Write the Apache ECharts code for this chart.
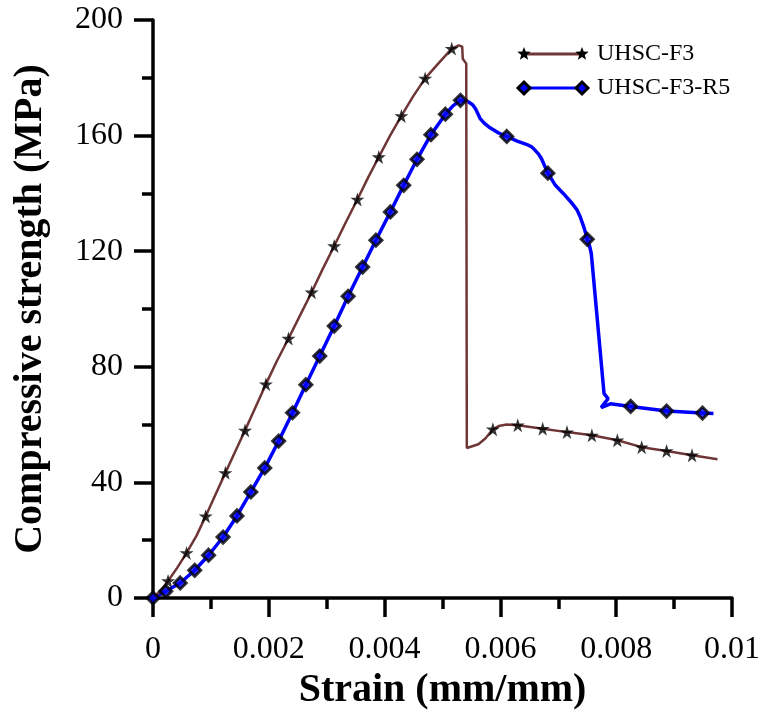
<!DOCTYPE html>
<html><head><meta charset="utf-8">
<script src="https://cdn.jsdelivr.net/npm/echarts@6/dist/echarts.min.js"></script>
<style>html,body{margin:0;padding:0;background:#fff}#c{width:761px;height:710px}</style>
</head><body><div id="c"></div>
<script>
// Series names
const seriesNames = ['UHSC-F3', 'UHSC-F3-R5'];
// Tick labels
const xTickLabels = ['0', '0.002', '0.004', '0.006', '0.008', '0.01'];
const yTickLabels = ['0', '40', '80', '120', '160', '200'];
// UHSC-F3 curve [strain, stress]
const f3Curve = [[0,0],[0.00013,2.5],[0.00026,5.9],[0.00042,10.5],[0.00058,15.6],[0.00075,21.5],[0.00091,28.3],[0.00108,35.8],[0.00125,43.3],[0.00142,50.7],[0.00159,58.0],[0.00177,66],[0.00195,74.0],[0.00214,82],[0.00234,89.8],[0.00254,97.8],[0.00274,105.8],[0.00293,113.8],[0.00313,121.8],[0.00333,130],[0.00353,137.9],[0.00371,145.3],[0.00390,152.6],[0.00409,159.8],[0.00429,166.8],[0.00449,173.5],[0.00470,179.8],[0.00493,185],[0.00516,190.1],[0.00528,191.2],[0.00534,190.8],[0.00535,186.6],[0.00541,184.9],[0.00542,51.9],[0.00562,53.2],[0.00574,55.2],[0.00587,58.4],[0.00597,59.5],[0.00611,60.0],[0.00630,59.8],[0.00673,58.6],[0.00715,57.4],[0.00758,56.3],[0.00802,54.6],[0.00844,52.2],[0.00887,50.9],[0.00931,49.4],[0.00975,48.0]];
// UHSC-F3 marker positions
const f3Markers = [[0.00026,5.9],[0.00058,15.6],[0.00091,28.3],[0.00125,43.3],[0.00159,58.0],[0.00195,74.0],[0.00234,89.8],[0.00274,105.8],[0.00313,121.8],[0.00353,137.9],[0.00390,152.6],[0.00429,166.8],[0.00470,179.8],[0.00516,190.1],[0.00587,58.4],[0.00630,59.8],[0.00673,58.6],[0.00715,57.4],[0.00758,56.3],[0.00802,54.6],[0.00844,52.2],[0.00887,50.9],[0.00931,49.4]];
// UHSC-F3-R5 curve
const r5Curve = [[0,0],[0.00022,2.3],[0.00047,5.2],[0.00072,9.6],[0.00096,14.8],[0.00121,21.1],[0.00145,28.4],[0.00169,36.7],[0.00193,45.0],[0.00217,54.3],[0.00241,64.1],[0.00264,73.8],[0.00288,83.7],[0.00313,94.1],[0.00337,104.4],[0.00362,114.5],[0.00385,123.8],[0.00410,133.6],[0.00433,142.8],[0.00456,151.8],[0.00480,160.3],[0.00505,167.4],[0.00518,170.3],[0.00531,172.2],[0.00545,171.6],[0.00552,170.7],[0.00557,169.3],[0.00565,165.9],[0.00572,164.3],[0.00580,163.0],[0.00597,160.9],[0.00611,159.7],[0.00629,158.1],[0.00646,156.9],[0.00654,156.1],[0.00660,154.9],[0.00666,153.6],[0.00671,152.0],[0.00682,147.0],[0.00695,142.8],[0.00709,139.9],[0.00724,136.5],[0.00732,134.4],[0.00738,131.8],[0.00745,127.8],[0.00750,124.1],[0.00754,121.8],[0.00757,119.2],[0.00779,70.7],[0.00786,69.0],[0.00774,65.9],[0.00790,67.2],[0.00825,66.3],[0.00887,64.7],[0.00949,64.0],[0.00968,63.8]];
// UHSC-F3-R5 marker positions
const r5Markers = [[0,0],[0.00022,2.3],[0.00047,5.2],[0.00072,9.6],[0.00096,14.8],[0.00121,21.1],[0.00145,28.4],[0.00169,36.7],[0.00193,45.0],[0.00217,54.3],[0.00241,64.1],[0.00264,73.8],[0.00288,83.7],[0.00313,94.1],[0.00337,104.4],[0.00362,114.5],[0.00385,123.8],[0.00410,133.6],[0.00433,142.8],[0.00456,151.8],[0.00480,160.3],[0.00505,167.4],[0.00531,172.2],[0.00611,159.7],[0.00682,147.0],[0.00750,124.1],[0.00825,66.3],[0.00887,64.7],[0.00949,64.0]];

const BROWN = '#6e3636', BLUE = '#0000ff';
const STAR = 'path://M50,0 L61.2,34.5 L97.6,34.5 L68.2,55.9 L79.4,90.5 L50,69.1 L20.6,90.5 L31.8,55.9 L2.4,34.5 L38.8,34.5 Z';
const FONT = '"Liberation Serif", "Times New Roman", serif';

function starPoints(cx, cy, R) {
  const r = R * 0.42, pts = [];
  for (let i = 0; i < 10; i++) {
    const a = -Math.PI / 2 + i * Math.PI / 5;
    const rr = i % 2 === 0 ? R : r;
    pts.push([cx + rr * Math.cos(a), cy + rr * Math.sin(a)]);
  }
  return pts;
}

const chart = echarts.init(document.getElementById('c'), null, {renderer: 'canvas'});
const axisCommon = {
  axisLine: {lineStyle: {color: '#000', width: 3.5}},
  axisTick: {show: true, inside: false, length: 19, lineStyle: {color: '#000', width: 3.5}},
  minorTick: {show: true, splitNumber: 2, length: 11, lineStyle: {color: '#000', width: 3.5}},
  splitLine: {show: false},
  nameTextStyle: {color: '#000', fontFamily: FONT, fontSize: 40, fontWeight: 'bold'}
};

function legendItem(y, kind, color, text) {
  const els = [{type: 'line', shape: {x1: 524, y1: y, x2: 582, y2: y}, style: {stroke: color, lineWidth: 3}}];
  [524, 582].forEach(x => {
    if (kind === 'star') {
      els.push({type: 'polygon', shape: {points: starPoints(x, y, 7)}, style: {fill: '#000'}});
    } else {
      els.push({type: 'polygon', shape: {points: [[x, y - 6], [x + 6, y], [x, y + 6], [x - 6, y]]}, style: {fill: BLUE, stroke: '#000', lineWidth: 3}});
    }
  });
  els.push({type: 'text', x: 597, y: y, style: {text: text, fill: '#000', fontFamily: FONT, fontSize: 24, verticalAlign: 'middle'}});
  return els;
}

chart.setOption({
  animation: false,
  backgroundColor: '#fff',
  grid: {left: 153, right: 29, top: 20, bottom: 112, containLabel: false, outerBoundsMode: 'none'},
  xAxis: Object.assign({}, axisCommon, {
    type: 'value', min: 0, max: 0.01, interval: 0.002,
    name: 'Strain (mm/mm)', nameLocation: 'middle', nameGap: 68,
    axisLabel: {color: '#000', fontFamily: FONT, fontSize: 32, margin: 36, formatter: (v) => xTickLabels[Math.round(v / 0.002)]}
  }),
  yAxis: Object.assign({}, axisCommon, {
    type: 'value', min: 0, max: 200, interval: 40,
    name: 'Compressive strength (MPa)', nameLocation: 'middle', nameGap: 102, nameRotate: 90,
    axisLabel: {color: '#000', fontFamily: FONT, fontSize: 32, margin: 30, formatter: (v) => yTickLabels[Math.round(v / 40)]}
  }),
  series: [
    {name: seriesNames[0], type: 'line', data: f3Curve, showSymbol: false, symbol: 'none', lineStyle: {color: BROWN, width: 2.5}, itemStyle: {color: BROWN}, z: 3},
    {name: seriesNames[1], type: 'line', data: r5Curve, showSymbol: false, symbol: 'none', lineStyle: {color: BLUE, width: 3.5}, itemStyle: {color: BLUE}, z: 2},
    {name: seriesNames[0] + ' markers', type: 'scatter', data: f3Markers, symbol: STAR, symbolSize: 14, itemStyle: {color: '#000'}, z: 5},
    {name: seriesNames[1] + ' markers', type: 'scatter', data: r5Markers, symbol: 'diamond', symbolSize: 12, itemStyle: {color: BLUE, borderColor: '#000', borderWidth: 3}, z: 4}
  ],
  graphic: [].concat(legendItem(54, 'star', BROWN, seriesNames[0]), legendItem(88, 'diamond', BLUE, seriesNames[1]))
});
</script></body></html>
